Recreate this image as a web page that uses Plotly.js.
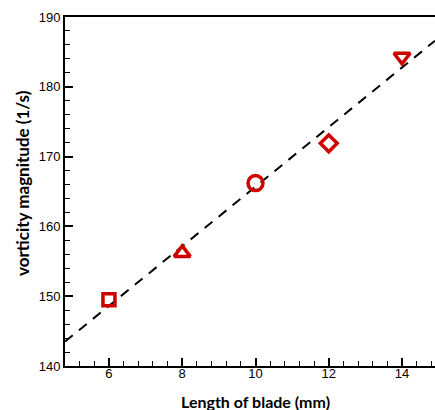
<!DOCTYPE html>
<html>
<head>
<meta charset="utf-8">
<script src="https://cdn.plot.ly/plotly-3.0.1.min.js"></script>
<style>html,body{margin:0;padding:0;background:#fff;}#chart{width:435px;height:410px;}</style>
</head>
<body>
<div id="chart"></div>
<script>
// Data
var bladeLength = [6, 8, 10, 12, 14];
var vorticity = [149.5, 156.2, 166.2, 171.9, 184.3];
var markerSymbols = ['square-open', 'triangle-up-open', 'circle-open', 'diamond-open', 'triangle-down-open'];
var markerSizes = [12, 14, 15, 13, 14];
var fitX = [4.8, 14.9];
var fitY = [143.5, 186.6];
var xTickVals = [6, 8, 10, 12, 14];
var yTickVals = [140, 150, 160, 170, 180, 190];
var xTitle = 'Length of blade (mm)';
var yTitle = 'vorticity magnitude (1/s)';

var red = '#d00000';
var traces = [
  {
    x: fitX, y: fitY, mode: 'lines', type: 'scatter',
    line: {color: '#000', width: 2, dash: '10px,8px'},
    hoverinfo: 'skip', showlegend: false, cliponaxis: true
  },
  {
    x: bladeLength, y: vorticity, mode: 'markers', type: 'scatter',
    marker: {symbol: markerSymbols, size: markerSizes, color: red, opacity: 1,
             line: {color: red, width: 3.5}},
    showlegend: false, cliponaxis: false
  }
];

var tickFont = {family: 'Liberation Sans, Arial, sans-serif', size: 13, color: '#000'};
var xTitleFont = {family: 'Lato, Open Sans, sans-serif', size: 16, color: '#000'};
var yTitleFont = {family: 'Lato, Open Sans, sans-serif', size: 17, color: '#000'};

var layout = {
  width: 435, height: 410,
  margin: {l: 65, r: 0, t: 17, b: 44},
  paper_bgcolor: '#fff', plot_bgcolor: '#fff',
  showlegend: false,
  xaxis: {
    range: [4.8, 14.9], tickvals: xTickVals, ticks: 'inside', ticklen: 8, tickwidth: 2,
    tickcolor: '#000', showline: true, linecolor: '#000', linewidth: 2, mirror: true,
    showgrid: false, zeroline: false, tickfont: tickFont, ticklabelstandoff: -6,
    minor: {dtick: 0.4, tick0: 0, ticks: 'inside', ticklen: 5, tickwidth: 1, tickcolor: '#000', showgrid: false}
  },
  yaxis: {
    range: [140, 190], tickvals: yTickVals, ticks: 'inside', ticklen: 8, tickwidth: 2,
    tickcolor: '#000', showline: true, linecolor: '#000', linewidth: 2, mirror: false,
    showgrid: false, zeroline: false, tickfont: tickFont,
    minor: {dtick: 2, tick0: 140, ticks: 'inside', ticklen: 5, tickwidth: 1, tickcolor: '#000', showgrid: false}
  },
  annotations: [
    {text: '<b>' + xTitle + '</b>', xref: 'paper', yref: 'paper', x: (255 - 65) / 370, y: -(401 - 366) / 349,
     xanchor: 'center', yanchor: 'middle', showarrow: false, font: xTitleFont},
    {text: '<b>' + yTitle + '</b>', xref: 'paper', yref: 'paper', x: -(65 - 22) / 370, y: (366 - 183) / 349,
     xanchor: 'center', yanchor: 'middle', showarrow: false, textangle: -90, font: yTitleFont}
  ]
};

Plotly.newPlot('chart', traces, layout, {displayModeBar: false, staticPlot: true});
</script>
</body>
</html>
